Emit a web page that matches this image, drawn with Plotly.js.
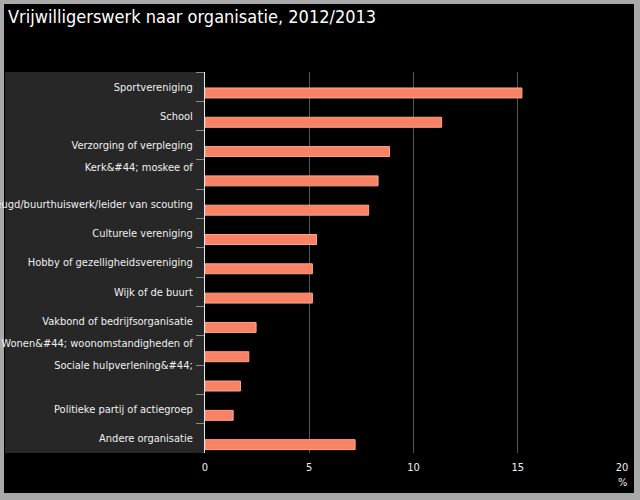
<!DOCTYPE html>
<html lang="nl">
<head>
    <meta charset="UTF-8">
    <title>Vrijwilligerswerk naar organisatie</title>
    <script src="https://cdn.plot.ly/plotly-3.0.1.min.js"></script>
    <style>
        body { margin: 0; padding: 0; background: #000; }
        #chart { width: 640px; height: 500px; }
    </style>
</head>
<body>
    <div id="chart"></div>
    <script>
        // Categories (top to bottom) and percentages
        const categories = [
            'Sportvereniging',
            'School',
            'Verzorging of verpleging',
            'Kerk&amp;#44; moskee of<br>&nbsp;',
            'Jeugd/buurthuiswerk/leider van scouting',
            'Culturele vereniging',
            'Hobby of gezelligheidsvereniging',
            'Wijk of de buurt',
            'Vakbond of bedrijfsorganisatie',
            'Wonen&amp;#44; woonomstandigheden of<br>&nbsp;',
            'Sociale hulpverlening&amp;#44;<br>&nbsp;<br>&nbsp;',
            'Politieke partij of actiegroep',
            'Andere organisatie'
        ];
        const percentages = [15.2, 11.35, 8.85, 8.3, 7.85, 5.35, 5.15, 5.15, 2.45, 2.1, 1.7, 1.35, 7.2];
        const xTicks = [0, 5, 10, 15, 20];

        // plot area in pixels
        const W = 640, H = 500;
        const plotL = 205, plotR = 622, plotT = 72, plotB = 453;
        const px = x => (x - plotL) / (plotR - plotL);
        const py = y => (plotB - y) / (plotB - plotT);

        function rect(x0, y0, x1, y1, color) {
            return {
                type: 'rect', xref: 'paper', yref: 'paper', layer: 'below',
                x0: px(x0), x1: px(x1), y0: py(y1), y1: py(y0),
                fillcolor: color, line: { width: 0 }
            };
        }

        const font = 'DejaVu Sans Condensed, DejaVu Sans, sans-serif';

        const trace = {
            type: 'bar',
            orientation: 'h',
            y: categories,
            x: percentages,
            offset: 0.045,
            width: 0.34,
            marker: { color: '#fa8264', line: { color: '#ffa68c', width: 1 } },
            hoverinfo: 'none'
        };

        const layout = {
            width: W,
            height: H,
            margin: { l: plotL, r: W - plotR, t: plotT, b: H - plotB },
            paper_bgcolor: '#000',
            plot_bgcolor: 'rgba(0,0,0,0)',
            font: { family: font, size: 11, color: '#f0f0f0' },
            showlegend: false,
            title: {
                text: 'Vrijwilligerswerk naar organisatie, 2012/2013',
                xref: 'container', yref: 'container',
                x: 8 / W, xanchor: 'left',
                y: 1 - 17 / H, yanchor: 'middle',
                font: { family: font, size: 18, color: '#ffffff' }
            },
            xaxis: {
                range: [0, 20],
                tickvals: xTicks,
                showgrid: true,
                gridcolor: '#555555',
                gridwidth: 1,
                zeroline: false,
                showline: false,
                ticks: '',
                ticklabelstandoff: 6,
                fixedrange: true
            },
            yaxis: {
                type: 'category',
                autorange: 'reversed',
                showgrid: false,
                showline: true,
                linecolor: '#e8e8e8',
                linewidth: 1,
                ticks: 'outside',
                tickson: 'boundaries',
                ticklen: 8,
                tickcolor: '#8a8a8a',
                ticklabelstandoff: 9,
                fixedrange: true
            },
            shapes: [
                rect(0, 0, W, H, '#a9a9a9'),
                rect(4, 4, 634, 493, '#000000'),
                rect(5, plotT, plotL, plotB, '#272727')
            ],
            annotations: [{
                text: '%',
                xref: 'paper', yref: 'paper',
                x: 1, y: 0,
                xanchor: 'center', yanchor: 'top',
                yshift: -21,
                showarrow: false,
                font: { family: font, size: 11, color: '#f0f0f0' }
            }]
        };

        Plotly.newPlot('chart', [trace], layout, { displayModeBar: false, staticPlot: true });
    </script>
</body>
</html>
